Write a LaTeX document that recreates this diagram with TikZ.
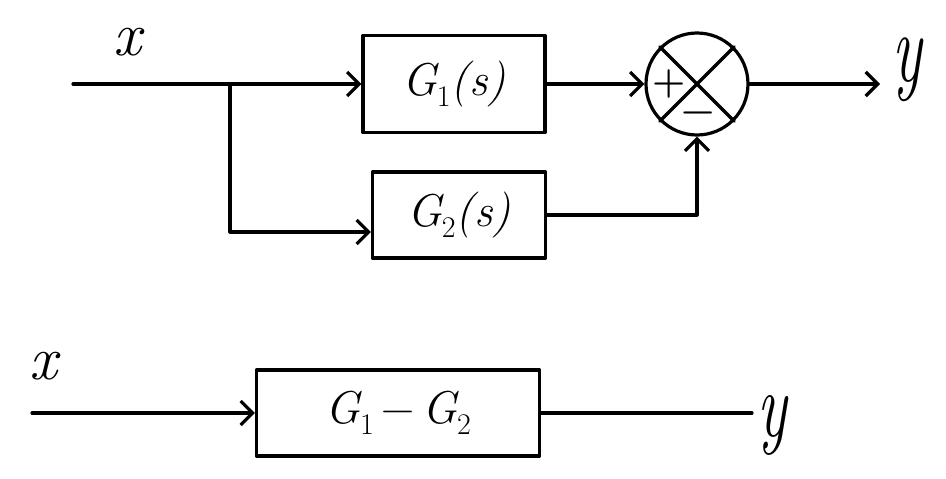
\documentclass[tikz,border=0pt]{standalone}
\usepackage{graphicx}
\usetikzlibrary{arrows.meta}
\newcommand{\mysub}[1]{\raisebox{-0.25em}{\fontsize{30}{30}\selectfont\upshape #1}}
\begin{document}
\begin{tikzpicture}[x=1pt,y=-1pt,
  line width=3.2pt, line cap=round, line join=round,
  arr/.style={-{Straight Barb[length=12pt,width=24pt]}},
  blockbox/.style={draw, rectangle, inner sep=0pt, font=\fontsize{46}{52}\selectfont\itshape},
  biglbl/.style={inner sep=0pt, font=\fontsize{62}{62}\selectfont\itshape},
  signlbl/.style={inner sep=0pt, font=\fontsize{38}{38}\selectfont\bfseries}]
\useasboundingbox[fill=white] (0,0) rectangle (946,479);

% top diagram
\node[blockbox, minimum width=182pt, minimum height=97pt] (g1) at (454,84) {G\mysub{1}(s)};
\node[blockbox, minimum width=173pt, minimum height=86pt] (g2) at (459,215) {G\mysub{2}(s)};
\node[circle, draw, minimum size=102pt, inner sep=0pt] (sum) at (697,84) {};
\draw (sum.north west) -- (sum.south east);
\draw (sum.north east) -- (sum.south west);
\node[signlbl] (plus) at (669,84) {+};
\node[signlbl] (minus) at (698,117) {\char"2212};

\coordinate (xin) at (73,84);
\coordinate (split) at (230,84);
\coordinate (yend) at (880,84);
\node[biglbl] (xlab) at (127,42) {x};
\node[biglbl] (ylab) at (907,70) {\scalebox{1}[1.6]{y}};

\draw (xin) -- (split);
\draw[arr] (split) -- (g1.west);
\draw[arr] (split) |- ([yshift=-17pt]g2.west);
\draw[arr] (g1.east) -- (sum.west);
\draw[arr] (g2.east) -| (sum.south);
\draw[arr] (sum.east) -- (yend);

% bottom diagram
\node[blockbox, minimum width=283pt, minimum height=86pt] (g12) at (398,413) {G\mysub{1}\,{\upshape\char"2212}\,G\mysub{2}};
\coordinate (xin2) at (32,413);
\coordinate (yout2) at (752,413);
\node[biglbl] (xlab2) at (43,366) {x};
\node[biglbl] (ylab2) at (772,425) {\scalebox{1}[1.5]{y}};
\draw[arr] (xin2) -- (g12.west);
\draw (g12.east) -- (yout2);
\end{tikzpicture}
\end{document}
